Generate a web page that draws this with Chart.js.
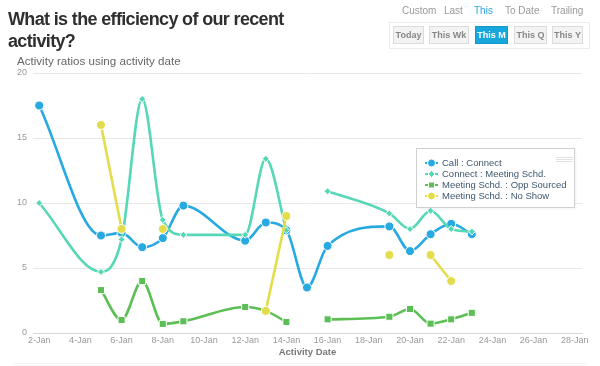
<!DOCTYPE html>
<html>
<head>
<meta charset="utf-8">
<script src="https://cdn.jsdelivr.net/npm/chart.js@4.4.1/dist/chart.umd.min.js"></script>
<style>
  html, body { margin: 0; padding: 0; background: #fff; }
  body { width: 600px; height: 366px; position: relative; overflow: hidden; font-family: "Liberation Sans", Arial, Helvetica, sans-serif; }
  #chart { position: absolute; left: 0; top: 0; }
  .title { position: absolute; left: 8px; top: 8px; width: 300px; font-weight: bold; font-size: 18px; line-height: 22px; letter-spacing: -0.65px; color: #2f2f2f; }
  .subtitle { position: absolute; left: 17px; top: 54px; font-size: 11.6px; line-height: 14px; color: #666; white-space: nowrap; }
  .menu { position: absolute; top: 5px; font-size: 10px; line-height: 12px; color: #999; white-space: nowrap; }
  .menu.active { color: #29a8e0; }
  .btnbox { position: absolute; left: 389px; top: 22px; width: 199px; height: 25px; border: 1px solid #ececec; }
  .btn { position: absolute; top: 26px; height: 16px; border: 1px solid #dcdcdc; background: #f3f3f3; color: #888; font-size: 9px; font-weight: bold; line-height: 16px; text-align: center; white-space: nowrap; }
  .btn.active { background: #18a7dd; border-color: #1598cb; color: #fff; }
  .foot { position: absolute; left: 14px; top: 363px; width: 572px; border-top: 1px solid #f2f2f2; }
</style>
</head>
<body>
<canvas id="chart" width="600" height="366"></canvas>
<div class="title">What is the efficiency of our recent activity?</div>
<div class="subtitle">Activity ratios using activity date</div>

<div class="menu" style="left:402px">Custom</div>
<div class="menu" style="left:444px">Last</div>
<div class="menu active" style="left:474px">This</div>
<div class="menu" style="left:505px">To Date</div>
<div class="menu" style="left:551px">Trailing</div>

<div class="btnbox"></div>
<div class="btn" style="left:393px;width:29px">Today</div>
<div class="btn" style="left:429px;width:38px">This Wk</div>
<div class="btn active" style="left:475px;width:31px">This M</div>
<div class="btn" style="left:514px;width:31px">This Q</div>
<div class="btn" style="left:552px;width:29px">This Y</div>
<div class="foot"></div>

<script>
// ---- Data (day of January; null = break in the line) ----
const seriesNames = ["Call : Connect", "Connect : Meeting Schd.", "Meeting Schd. : Opp Sourced", "Meeting Schd. : No Show"];

const callDays = [2, 5, 6, 7, 8, 9, 12, 13, 14, 15, 16, 19, 20, 21, 22, 23];
const callVals = [17.5, 7.5, 7.7, 6.6, 7.3, 9.8, 7.1, 8.5, 7.9, 3.5, 6.7, 8.2, 6.3, 7.6, 8.4, 7.6];

const connectDays = [2, 5, 6, 7, 8, 9, 12, 13, 14, 15, 16, 19, 20, 21, 22, 23];
const connectVals = [10.0, 4.7, 7.2, 18.0, 8.7, 7.55, 7.55, 13.4, 7.9, null, 10.9, 9.2, 8.0, 9.4, 8.0, 7.8];

const oppDays = [5, 6, 7, 8, 9, 12, 13, 14, 15, 16, 19, 20, 21, 22, 23];
const oppVals = [3.3, 1.0, 4.0, 0.7, 0.9, 2.0, 1.7, 0.85, null, 1.05, 1.25, 1.85, 0.72, 1.05, 1.55];

const noShowDays = [5, 6, 7, 8, 9, 13, 14, 15, 19, 20, 21, 22];
const noShowVals = [16.0, 8.0, null, 8.0, null, 1.7, 9.0, null, 6.0, null, 6.0, 4.0];

const xTickDays = [2, 4, 6, 8, 10, 12, 14, 16, 18, 20, 22, 24, 26, 28];
const yTicks = [0, 5, 10, 15, 20];
const monthLabel = "Jan";
const xAxisTitle = "Activity Date";

const colors = ["#27a9e1", "#56d7b6", "#5cbf55", "#e3dd4b"];
const pointStyles = ["circle", "rectRot", "rect", "circle"];
const pointRadii = [4.5, 3.5, 5, 4.5];

function pts(days, vals) { return days.map((d, i) => ({ x: d, y: vals[i] })); }
const allData = [pts(callDays, callVals), pts(connectDays, connectVals), pts(oppDays, oppVals), pts(noShowDays, noShowVals)];

const datasets = allData.map((data, i) => ({
  label: seriesNames[i],
  data: data,
  borderColor: colors[i],
  backgroundColor: colors[i],
  borderWidth: 2.6,
  cubicInterpolationMode: "monotone",
  spanGaps: false,
  pointStyle: pointStyles[i],
  pointRadius: pointRadii[i],
  pointBorderColor: "#ffffff",
  pointBorderWidth: 1,
  pointBackgroundColor: colors[i],
  order: 3 - i
}));

// Floating legend drawn on the canvas
const floatLegend = {
  id: "floatLegend",
  afterDraw(chart) {
    const ctx = chart.ctx;
    const bx = 416.5, by = 148.5, bw = 158, bh = 59;
    ctx.save();
    ctx.shadowColor = "rgba(0,0,0,0.08)";
    ctx.shadowBlur = 3;
    ctx.shadowOffsetX = 1;
    ctx.shadowOffsetY = 1;
    ctx.fillStyle = "#ffffff";
    ctx.fillRect(bx, by, bw, bh);
    ctx.shadowColor = "transparent";
    ctx.strokeStyle = "#d0d0d0";
    ctx.lineWidth = 1;
    ctx.strokeRect(bx, by, bw, bh);
    // menu icon
    ctx.strokeStyle = "#e2e2e2";
    ctx.lineWidth = 1;
    [157.5, 159.5, 161.5].forEach(y => { ctx.beginPath(); ctx.moveTo(556, y); ctx.lineTo(573, y); ctx.stroke(); });
    // items
    ctx.font = "9.5px 'Liberation Sans', Arial, sans-serif";
    ctx.textBaseline = "middle";
    ctx.textAlign = "left";
    chart.data.datasets.forEach((ds, i) => {
      const y = 163 + i * 11;
      ctx.strokeStyle = ds.borderColor;
      ctx.lineWidth = 2;
      ctx.beginPath(); ctx.moveTo(425, y); ctx.lineTo(438, y); ctx.stroke();
      ctx.fillStyle = ds.pointBackgroundColor;
      ctx.strokeStyle = "#fff";
      ctx.lineWidth = 1;
      ctx.beginPath();
      const r = ds.pointStyle === "rect" ? 4.2 : (ds.pointStyle === "rectRot" ? 3.5 : 4);
      Chart.helpers.drawPoint(ctx, { pointStyle: ds.pointStyle, radius: r, rotation: 0, borderWidth: 1 }, 431.5, y);
      ctx.fill();
      ctx.stroke();
      ctx.fillStyle = "#3e576f";
      ctx.fillText(ds.label, 442, y + 0.5);
    });
    ctx.restore();
  }
};

Chart.defaults.font.family = "'Liberation Sans', Arial, Helvetica, sans-serif";

new Chart(document.getElementById("chart"), {
  type: "line",
  data: { datasets: datasets },
  options: {
    responsive: false,
    animation: false,
    devicePixelRatio: 1,
    layout: { padding: { top: 73, right: 18, left: 0, bottom: 0 } },
    plugins: { legend: { display: false }, tooltip: { enabled: false } },
    scales: {
      x: {
        type: "linear",
        min: 1.7,
        max: 28.35,
        afterFit: s => { s.height = 33; },
        afterBuildTicks: axis => { axis.ticks = xTickDays.map(v => ({ value: v })); },
        grid: { display: false, drawTicks: false },
        border: { display: true, color: "#d8d8d8", width: 1 },
        ticks: {
          autoSkip: false, maxRotation: 0, padding: 2,
          color: "#999", font: { size: 9 },
          callback: v => v + "-" + monthLabel
        },
        title: { display: true, text: xAxisTitle, color: "#777", font: { size: 9.5, weight: "bold" }, padding: { top: 0, bottom: 8 } }
      },
      y: {
        min: 0,
        max: 20,
        afterFit: s => { s.width = 33; },
        afterBuildTicks: axis => { axis.ticks = yTicks.map(v => ({ value: v })); },
        grid: { color: "#e8e8e8", drawTicks: false, lineWidth: 1 },
        border: { display: false },
        ticks: { padding: 6, color: "#999", font: { size: 9 } }
      }
    }
  },
  plugins: [floatLegend]
});
</script>
</body>
</html>
